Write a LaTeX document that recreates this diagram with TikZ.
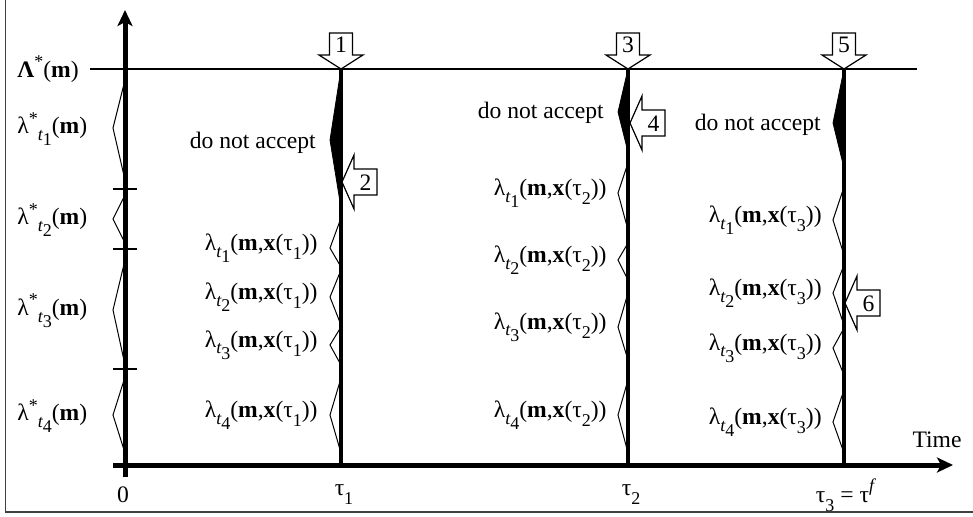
\documentclass[tikz,border=0pt]{standalone}
\usepackage{fontspec}
\setmainfont{Liberation Serif}
\usetikzlibrary{arrows.meta}
\newcommand\sml{\fontsize{9}{9}\selectfont}
\newcommand\tsb[1]{\raisebox{-0.28em}{\sml\itshape t}\raisebox{-0.5em}{\sml #1}}
\newcommand\lsb[1]{\raisebox{-0.38em}{\sml #1}}
\newcommand\lamx[2]{λ\tsb{#1}(\textbf{m},\textbf{x}(τ\lsb{#2}))}
\newcommand\lamstar[1]{λ\raisebox{0.42em}{\sml *}\tsb{#1}(\textbf{m})}
\tikzset{
  frameline/.style={line width=0.7pt, draw=black!75},
  axisline/.style={line width=2.5pt},
  tauline/.style={line width=2pt},
  levelline/.style={line width=0.6pt},
  zig/.style={line width=0.5pt, line join=miter},
  wedge/.style={fill=black, draw=black, line width=0.4pt},
  blockarrow/.style={draw, fill=white, line width=0.6pt, line join=miter},
  lbl/.style={inner sep=0pt, anchor=east},
  dnarr/.pic={
    \path[blockarrow] (0,0) -- (-22,-14) -- (-11.5,-14) -- (-11.5,-36) -- (11.5,-36) -- (11.5,-14) -- (22,-14) -- cycle;
    \node[inner sep=0pt] (-num) at (0,-24) {#1};
  },
  ltarr/.pic={
    \path[blockarrow] (0,0) -- (12,-27) -- (12,-13) -- (35,-13) -- (35,13) -- (12,13) -- (12,27) -- cycle;
    \node[inner sep=0pt] (-num) at (23.5,1) {#1};
  }
}
\begin{document}
\begin{tikzpicture}[x=0.5pt,y=-0.5pt, font=\fontsize{11.8}{14}\selectfont]
\useasboundingbox (0,0) rectangle (973,516);
% frame
\draw[frameline] (5.5,0) -- (5.5,512) -- (973,512);
% coordinates
\coordinate (levL) at (90,69);
\coordinate (levR) at (917,69);
\coordinate (yB) at (125,477);
\coordinate (yT) at (125,10);
\coordinate (xL) at (113,465);
\coordinate (xR) at (953,465);
\coordinate (t1T) at (341,69); \coordinate (t1B) at (341,465);
\coordinate (t2T) at (628,69); \coordinate (t2B) at (628,465);
\coordinate (t3T) at (844,69); \coordinate (t3B) at (844,465);
% level line
\draw[levelline] (levL) -- (levR);
% ticks on vertical axis
\foreach \y in {189,249,369} \draw[levelline] (113,\y) -- (137,\y);
% axes
\draw[axisline, -{Stealth[length=8pt,width=7.5pt,inset=2pt]}] (yB) -- (yT);
\draw[axisline, -{Stealth[length=8pt,width=7.5pt,inset=2pt]}] (xL) -- (xR);
% tau lines
\draw[tauline] (t1T) -- (t1B);
\draw[tauline] (t2T) -- (t2B);
\draw[tauline] (t3T) -- (t3B);
% wedges
\path[wedge] (341,69) -- (330,140) -- (341,208) -- cycle;
\path[wedge] (628,69) -- (618,112) -- (628,152) -- cycle;
\path[wedge] (844,69) -- (833,123) -- (844,168) -- cycle;
% zigzags
\foreach \a/\b/\c in {80/128/180, 195/219/243, 260/310/365, 377/415/453}
  \draw[zig] (125,\a) -- (113,\b) -- (125,\c);
\foreach \a/\b/\c in {218/248/267, 270/297/325, 327/345/365, 378/415/453}
  \draw[zig] (341,\a) -- (330,\b) -- (341,\c);
\foreach \a/\b/\c in {163/193/230, 243/260/280, 293/327/360, 380/415/453}
  \draw[zig] (628,\a) -- (618,\b) -- (628,\c);
\foreach \a/\b/\c in {187/220/255, 265/293/325, 328/348/375, 390/422/453}
  \draw[zig] (844,\a) -- (833,\b) -- (844,\c);
% block arrows
\pic (a1) at (t1T) {dnarr=1};
\pic (a3) at (t2T) {dnarr=3};
\pic (a5) at (t3T) {dnarr=5};
\pic (a2) at (342,182) {ltarr=2};
\pic (a4) at (630,123) {ltarr=4};
\pic (a6) at (845,303) {ltarr=6};
% left labels
\node[inner sep=0pt, anchor=west] (Lam) at (17,69) {\textbf{Λ}\raisebox{0.42em}{\sml *}(\textbf{m})};
\node[inner sep=0pt, anchor=west] (ls1) at (17,129) {\lamstar{1}};
\node[inner sep=0pt, anchor=west] (ls2) at (17,220) {\lamstar{2}};
\node[inner sep=0pt, anchor=west] (ls3) at (17,311) {\lamstar{3}};
\node[inner sep=0pt, anchor=west] (ls4) at (17,416) {\lamstar{4}};
% tau1 labels
\node[lbl] (na1) at (316,143) {do not accept};
\node[lbl] (l11) at (318,248) {\lamx{1}{1}};
\node[lbl] (l12) at (318,297) {\lamx{2}{1}};
\node[lbl] (l13) at (318,345) {\lamx{3}{1}};
\node[lbl] (l14) at (318,415) {\lamx{4}{1}};
% tau2 labels
\node[lbl] (na2) at (604,113) {do not accept};
\node[lbl] (l21) at (607,193) {\lamx{1}{2}};
\node[lbl] (l22) at (607,260) {\lamx{2}{2}};
\node[lbl] (l23) at (607,327) {\lamx{3}{2}};
\node[lbl] (l24) at (607,415) {\lamx{4}{2}};
% tau3 labels
\node[lbl] (na3) at (821,125) {do not accept};
\node[lbl] (l31) at (822,220) {\lamx{1}{3}};
\node[lbl] (l32) at (822,293) {\lamx{2}{3}};
\node[lbl] (l33) at (822,348) {\lamx{3}{3}};
\node[lbl] (l34) at (822,422) {\lamx{4}{3}};
% axis labels
\node[inner sep=0pt] (zero) at (123,495) {0};
\node[inner sep=0pt] (tau1) at (344,495) {τ\lsb{1}};
\node[inner sep=0pt] (tau2) at (631,495) {τ\lsb{2}};
\node[inner sep=0pt] (tau3) at (845,495) {τ\lsb{3} = τ\raisebox{0.45em}{\sml\itshape f}};
\node[inner sep=0pt] (time) at (937,440) {Time};
\end{tikzpicture}
\end{document}
